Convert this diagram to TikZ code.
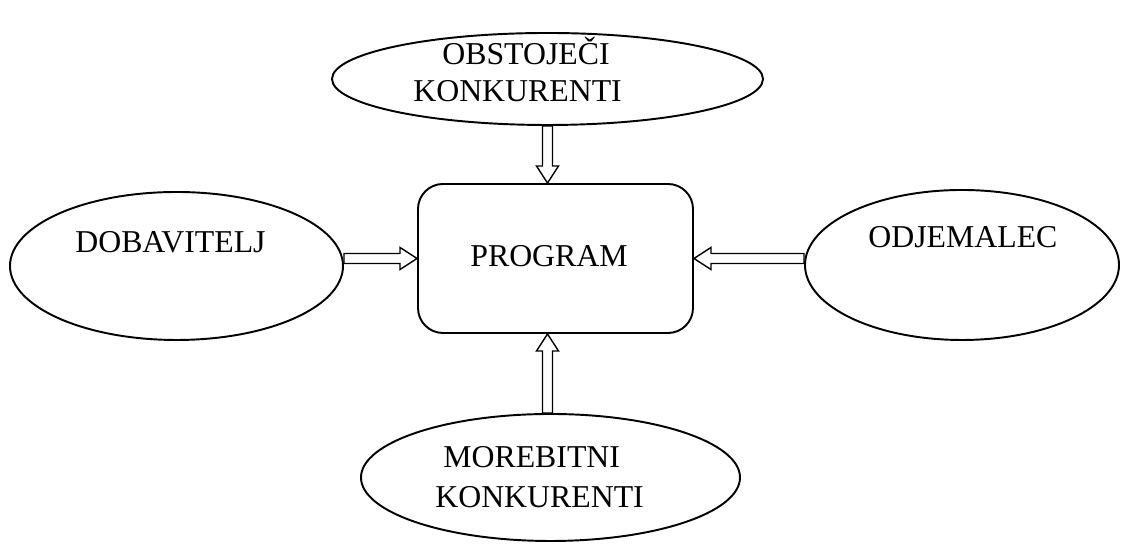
\documentclass[tikz,border=0pt]{standalone}
\usepackage{fontspec}
\setmainfont{Liberation Serif}
\usepackage{tikz}
\usetikzlibrary{calc,shapes.geometric}

\tikzset{
  bubble/.style={draw,ellipse,line width=1.1pt,inner sep=0pt},
  label/.style={anchor=base west,inner sep=0pt,font=\fontsize{18.1}{20}\selectfont},
  blockarrow/.style={draw,line width=0.8pt,fill=white}
}

\def\shafth{0.1cm}
\def\headh{0.22cm}
\def\headl{0.34cm}
% hollow block arrow from #1 to #2
\newcommand{\hollowarrow}[2]{%
  \draw[blockarrow] let \p1=(#1), \p2=(#2),
      \n1={atan2(\y2-\y1,\x2-\x1)}, \n2={veclen(\x2-\x1,\y2-\y1)} in
    [shift={(\p1)}, rotate=\n1]
    (0,-\shafth) -- ({\n2*1pt-\headl},-\shafth) -- ({\n2*1pt-\headl},-\headh)
    -- ({\n2*1pt},0) -- ({\n2*1pt-\headl},\headh) -- ({\n2*1pt-\headl},\shafth)
    -- (0,\shafth) -- cycle;}

\begin{document}
\begin{tikzpicture}
  \useasboundingbox (0,0) rectangle (22.56,11.04);

  \node[bubble,minimum width=8.62cm,minimum height=1.84cm] (obst) at (10.95,9.46) {};
  \node[bubble,minimum width=6.66cm,minimum height=2.96cm] (dob) at (3.53,5.72) {};
  \node[bubble,minimum width=6.28cm,minimum height=3.00cm] (odj) at (19.24,5.74) {};
  \node[bubble,minimum width=7.58cm,minimum height=2.54cm] (more) at (11.01,1.49) {};
  \node[draw,rectangle,rounded corners=0.5cm,line width=1.1pt,
        minimum width=5.5cm,minimum height=2.98cm] (prog) at (11.11,5.87) {};

  % texts
  \node[label] (obstA) at (8.84,9.74) {OBSTOJEČI};
  \node[label] (obstB) at (8.26,9.01) {KONKURENTI};
  \node[label] (dobT) at (1.50,5.98) {DOBAVITELJ};
  \node[label] (progT) at (9.40,5.70) {PROGRAM};
  \node[label] (odjT) at (17.36,6.08) {ODJEMALEC};
  \node[label] (moreA) at (8.86,1.69) {MOREBITNI};
  \node[label] (moreB) at (8.70,0.88) {KONKURENTI};

  % arrows
  \hollowarrow{obst.south}{obst.south |- prog.north}
  \hollowarrow{obst.south |- more.north}{obst.south |- prog.south}
  \hollowarrow{dob.east |- prog.west}{prog.west}
  \hollowarrow{odj.west |- prog.east}{prog.east}
\end{tikzpicture}
\end{document}
